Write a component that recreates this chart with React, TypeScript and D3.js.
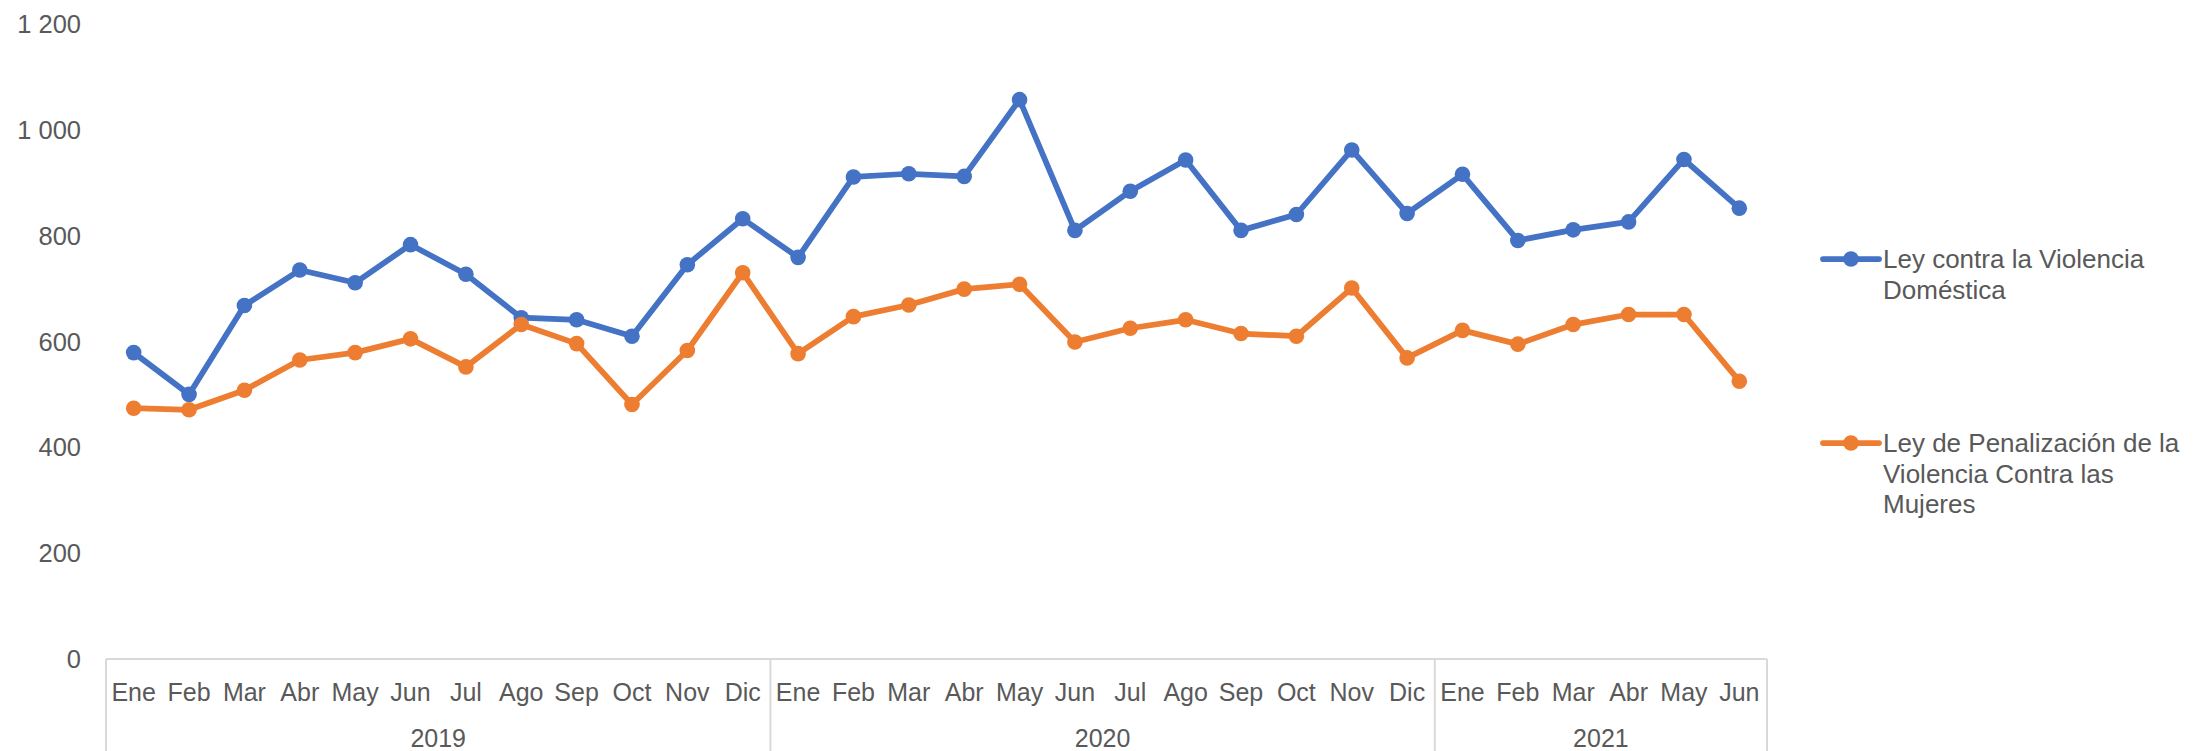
import React from 'react';
import * as d3 from 'd3';

// values (monthly counts)
const years = ['2019', '2020', '2021'];
const monthsPerYear = [12, 12, 6];
const monthNames = ['Ene', 'Feb', 'Mar', 'Abr', 'May', 'Jun', 'Jul', 'Ago', 'Sep', 'Oct', 'Nov', 'Dic'];

const violenciaDomestica = [
  579, 500, 668, 735, 711, 783, 727, 645, 641, 610, 745, 832,
  759, 911, 917, 912, 1057, 810, 884, 943, 810, 840, 962, 842,
  916, 791, 811, 826, 944, 852,
];
const penalizacionMujeres = [
  474, 471, 508, 565, 579, 605, 552, 632, 596, 481, 583, 730,
  577, 647, 669, 699, 708, 599, 625, 641, 615, 610, 701, 569,
  621, 595, 632, 651, 651, 525,
];

const yTicks = [0, 200, 400, 600, 800, 1000, 1200];

const seriesNames = [
  ['Ley contra la Violencia', 'Doméstica'],
  ['Ley de Penalización de la', 'Violencia Contra las', 'Mujeres'],
];
const colors = ['#4472C4', '#ED7D31'];

const W = 2193;
const H = 751;
const font = '"Liberation Sans", Arial, sans-serif';
const textColor = '#595959';
const axisColor = '#D9D9D9';

export default function App() {
  const categories = years.flatMap((y, i) =>
    monthNames.slice(0, monthsPerYear[i]).map((m) => ({ year: y, month: m }))
  );
  const idx = categories.map((_, i) => i);

  const x = d3.scaleBand<number>().domain(idx).range([106, 1767]);
  const cx = (i: number) => (x(i) as number) + x.bandwidth() / 2;
  const y = d3.scaleLinear().domain([0, 1200]).range([659, 24]);

  const line = d3.line<number>().x((_, i) => cx(i)).y((d) => y(d));
  const series = [violenciaDomestica, penalizacionMujeres];

  // group boundaries
  const bounds: number[] = [0];
  monthsPerYear.forEach((n) => bounds.push(bounds[bounds.length - 1] + n));
  const step = x.step();
  const bx = (k: number) => 106 + k * step;

  const fmt = (v: number) => d3.format(',')(v).replace(',', ' ');

  const legendY = [259, 443];

  return (
    <svg
      width={W}
      height={H}
      style={{ position: 'absolute', left: 0, top: 0, background: '#fff' }}
      fontFamily={font}
    >
      {/* y tick labels */}
      {yTicks.map((t) => (
        <text
          key={t}
          x={81}
          y={y(t)}
          textAnchor="end"
          dominantBaseline="central"
          fontSize={25.5}
          fill={textColor}
        >
          {fmt(t)}
        </text>
      ))}

      {/* category axis */}
      <line x1={106} x2={1767} y1={659} y2={659} stroke={axisColor} strokeWidth={2} />
      {bounds.map((b) => (
        <line key={b} x1={bx(b)} x2={bx(b)} y1={659} y2={H} stroke={axisColor} strokeWidth={2} />
      ))}
      {categories.map((c, i) => (
        <text
          key={i}
          x={cx(i)}
          y={692}
          textAnchor="middle"
          dominantBaseline="central"
          fontSize={25}
          fill={textColor}
        >
          {c.month}
        </text>
      ))}
      {years.map((yr, k) => (
        <text
          key={yr}
          x={(bx(bounds[k]) + bx(bounds[k + 1])) / 2}
          y={738}
          textAnchor="middle"
          dominantBaseline="central"
          fontSize={25}
          fill={textColor}
        >
          {yr}
        </text>
      ))}

      {/* series */}
      {series.map((s, k) => (
        <g key={k}>
          <path d={line(s) || ''} fill="none" stroke={colors[k]} strokeWidth={5.75} strokeLinejoin="round" />
          {s.map((v, i) => (
            <circle key={i} cx={cx(i)} cy={y(v)} r={7.8} fill={colors[k]} />
          ))}
        </g>
      ))}

      {/* legend */}
      {seriesNames.map((lines, k) => (
        <g key={k}>
          <line x1={1823} x2={1879} y1={legendY[k]} y2={legendY[k]} stroke={colors[k]} strokeWidth={5.75} strokeLinecap="round" />
          <circle cx={1851} cy={legendY[k]} r={7.8} fill={colors[k]} />
          {lines.map((t, j) => (
            <text
              key={j}
              x={1883}
              y={legendY[k] + j * 30.5}
              dominantBaseline="central"
              fontSize={26}
              fill={textColor}
            >
              {t}
            </text>
          ))}
        </g>
      ))}
    </svg>
  );
}
